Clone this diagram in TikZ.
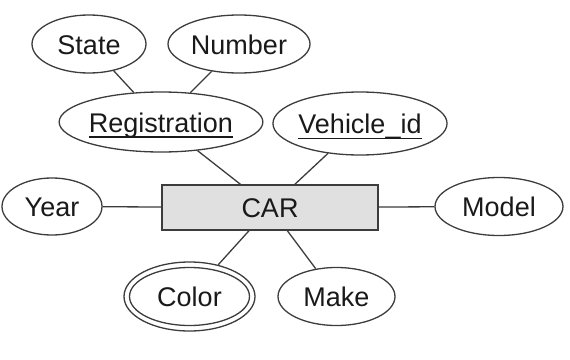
\documentclass[tikz,border=0pt]{standalone}
\usepackage{fontspec}
\setmainfont{Liberation Sans}
\usetikzlibrary{shapes.geometric}
\definecolor{linegray}{RGB}{60,60,60}
\definecolor{textgray}{RGB}{25,25,25}
\definecolor{boxfill}{RGB}{224,224,224}
\newcommand{\keyul}[1]{\setbox0\hbox{#1}\rlap{\rule[-5.5pt]{\wd0}{1.4pt}}\box0}
\begin{document}
\begin{tikzpicture}[x=1pt,y=-1pt,
  attr/.style={ellipse, draw=linegray, line width=1.3pt, inner sep=0pt,
    font=\fontsize{27}{30}\selectfont, text height=20pt, text depth=0pt, text=textgray},
  entity/.style={rectangle, draw=linegray, fill=boxfill, line width=1.3pt, inner sep=0pt,
    font=\fontsize{27}{30}\selectfont, text height=20pt, text depth=0pt, text=textgray},
  conn/.style={draw=linegray, line width=1.3pt}]
\useasboundingbox (0,0) rectangle (570,359);
\node[attr, minimum width=114pt, minimum height=58pt] (state) at (89,44) {State};
\node[attr, minimum width=142pt, minimum height=58pt] (number) at (239,44) {Number};
\node[attr, minimum width=190pt, minimum height=60pt] (reg) at (161,122) {\keyul{Registration}};
\node[attr, minimum width=174pt, minimum height=63pt] (vid) at (360,123.5) {\keyul{Vehicle\_id}};
\node[entity, minimum width=216pt, minimum height=45pt] (car) at (270,207.5) {CAR};
\node[attr, minimum width=100pt, minimum height=57pt] (year) at (52,206.5) {Year};
\node[attr, minimum width=128pt, minimum height=58pt] (model) at (499,206.5) {Model};
\node[attr, minimum width=131pt, minimum height=69pt] (color) at (189.5,296.5) {Color};
\draw[linegray, line width=1.3pt] (color.center) ellipse (60pt and 29pt);
\node[attr, minimum width=117pt, minimum height=58pt] (make) at (336.5,296.5) {Make};
\draw[conn] (state) -- (reg);
\draw[conn] (number) -- (reg);
\draw[conn] (reg) -- (car);
\draw[conn] (vid) -- (car);
\draw[conn] (year) -- (car);
\draw[conn] (model) -- (car);
\draw[conn] (car) -- (color);
\draw[conn] (car) -- (make);
\end{tikzpicture}
\end{document}
